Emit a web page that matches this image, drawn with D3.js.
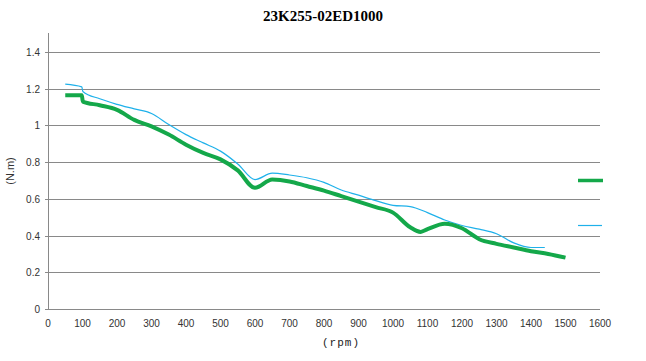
<!DOCTYPE html>
<html><head><meta charset="utf-8">
<script src="https://cdn.jsdelivr.net/npm/d3@7"></script>
<style>body{margin:0;background:#fff}svg{display:block}</style>
</head><body>
<script>
const title = "23K255-02ED1000";
const xTicks = [0,100,200,300,400,500,600,700,800,900,1000,1100,1200,1300,1400,1500,1600];
const yTicks = [0,0.2,0.4,0.6,0.8,1,1.2,1.4];
const greenRpm = [50,98,101,150,200,250,300,350,400,450,500,550,600,650,700,750,800,850,900,950,1000,1050,1080,1100,1150,1200,1250,1300,1350,1400,1450,1500];
const greenTorque = [1.165,1.165,1.13,1.11,1.085,1.03,0.995,0.95,0.895,0.85,0.815,0.755,0.66,0.705,0.695,0.67,0.645,0.615,0.585,0.555,0.525,0.445,0.42,0.435,0.465,0.44,0.38,0.355,0.335,0.315,0.3,0.28];
const blueRpm = [50,98,101,150,200,250,300,350,400,450,500,550,600,650,700,750,800,850,900,950,1000,1050,1100,1150,1200,1250,1300,1350,1400,1440];
const blueTorque = [1.225,1.21,1.185,1.145,1.115,1.09,1.065,1.005,0.95,0.905,0.86,0.79,0.705,0.74,0.73,0.715,0.69,0.648,0.62,0.59,0.565,0.558,0.525,0.485,0.455,0.435,0.41,0.36,0.335,0.335];

const W=646,H=361;
const svg=d3.select("body").append("svg").attr("width",W).attr("height",H);
const x=d3.scaleLinear().domain([0,1600]).range([48,600]);
const y=d3.scaleLinear().domain([0,1.4]).range([309,52]);
const grid="#898989";

svg.append("text").attr("x",323).attr("y",21).attr("text-anchor","middle")
  .attr("font-family","Liberation Serif").attr("font-weight","bold").attr("font-size",15)
  .attr("fill","#000").text(title);

svg.append("g").selectAll("line").data(yTicks).join("line")
  .attr("x1",45).attr("x2",x(1600)).attr("y1",d=>Math.round(y(d))+0.5).attr("y2",d=>Math.round(y(d))+0.5)
  .attr("stroke",grid).attr("stroke-width",1);
svg.append("line").attr("x1",48.5).attr("x2",48.5).attr("y1",33).attr("y2",Math.round(y(0))+0.5)
  .attr("stroke",grid);

svg.append("g").selectAll("text").data(yTicks).join("text")
  .attr("x",40).attr("y",d=>y(d)+4).attr("text-anchor","end")
  .attr("font-family","Liberation Sans").attr("font-size",10).attr("fill","#333")
  .text(d=>d3.format("~g")(d));
svg.append("g").selectAll("text").data(xTicks).join("text")
  .attr("x",d=>x(d)).attr("y",327).attr("text-anchor","middle")
  .attr("font-family","Liberation Sans").attr("font-size",10).attr("fill","#333")
  .text(d=>d);

svg.append("text").attr("transform","translate(14,171) rotate(-90)").attr("text-anchor","middle")
  .attr("font-family","Liberation Sans").attr("font-size",11).attr("fill","#333").text("(N.m)");
svg.append("text").attr("x",341).attr("y",346).attr("text-anchor","middle")
  .attr("font-family","Liberation Mono").attr("font-size",11).attr("letter-spacing",1).attr("fill","#222").text("(rpm)");

const line=d3.line().x(d=>x(d[0])).y(d=>y(d[1])).curve(d3.curveMonotoneX);
const blue=blueRpm.map((r,i)=>[r,blueTorque[i]]);
const green=greenRpm.map((r,i)=>[r,greenTorque[i]]);
svg.append("path").attr("d",line(blue)).attr("fill","none").attr("stroke","#1fb1ea").attr("stroke-width",1.2);
svg.append("path").attr("d",line(green)).attr("fill","none").attr("stroke","#14a84a").attr("stroke-width",4).attr("stroke-linejoin","round");

svg.append("line").attr("x1",578).attr("x2",603).attr("y1",180.5).attr("y2",180.5).attr("stroke","#14a84a").attr("stroke-width",3.5);
svg.append("line").attr("x1",578).attr("x2",602).attr("y1",225.5).attr("y2",225.5).attr("stroke","#1fb1ea").attr("stroke-width",1.2);
</script>
</body></html>
